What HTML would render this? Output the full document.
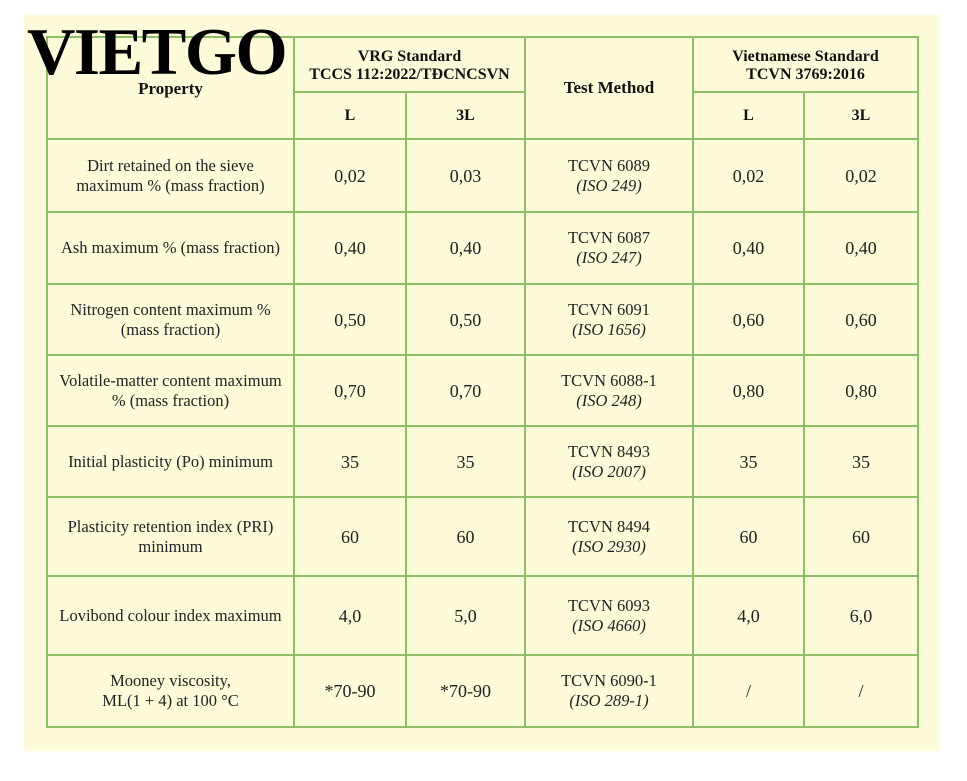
<!DOCTYPE html>
<html><head><meta charset="utf-8">
<style>
html,body{margin:0;padding:0;background:#fff;width:967px;height:781px;overflow:hidden}
#panel{position:absolute;left:24px;top:15px;width:916px;height:736px;background:#fdfbd9}
.c{position:absolute;box-sizing:border-box;border:2px solid #8cbf66;display:flex;align-items:center;justify-content:center;text-align:center;font-family:"Liberation Serif",serif;font-size:16.5px;color:#222;line-height:20px;margin:-1px 0 0 -1px}
.c>span{display:block}
.h{font-weight:bold;font-size:16px;color:#111}
i{font-style:italic}
#logo{position:absolute;left:27px;top:17px;font-family:"Liberation Serif",serif;font-weight:bold;font-size:67px;letter-spacing:-1.5px;color:#000;line-height:70px}
</style></head><body>
<div id="panel"></div>
<div id="tbl"></div>
<div id="logo">VIETGO</div>
<script>
const cols=[47,294,406,525,693,804,918];
const rows=[37,92,139,212,284,355,426,497,576,655,727];
const props=["Dirt retained on the sieve<br>maximum % (mass fraction)","Ash maximum % (mass fraction)","Nitrogen content maximum %<br>(mass fraction)","Volatile-matter content maximum<br>% (mass fraction)","Initial plasticity (Po) minimum","Plasticity retention index (PRI)<br>minimum","Lovibond colour index maximum","Mooney viscosity,<br>ML(1 + 4) at 100 °C"];
const vrgL=["0,02","0,40","0,50","0,70","35","60","4,0","*70-90"];
const vrg3L=["0,03","0,40","0,50","0,70","35","60","5,0","*70-90"];
const methods=["TCVN 6089<br><i>(ISO 249)</i>","TCVN 6087<br><i>(ISO 247)</i>","TCVN 6091<br><i>(ISO 1656)</i>","TCVN 6088-1<br><i>(ISO 248)</i>","TCVN 8493<br><i>(ISO 2007)</i>","TCVN 8494<br><i>(ISO 2930)</i>","TCVN 6093<br><i>(ISO 4660)</i>","TCVN 6090-1<br><i>(ISO 289-1)</i>"];
const vnL=["0,02","0,40","0,60","0,80","35","60","4,0","/"];
const vn3L=["0,02","0,40","0,60","0,80","35","60","6,0","/"];
const tbl=document.getElementById('tbl');
function cell(c0,c1,r0,r1,html,name,hdr,extra){
  const d=document.createElement('div');
  d.className='c'+(hdr?' h':'');
  d.style.left=cols[c0]+'px';d.style.width=(cols[c1]-cols[c0]+2)+'px';
  d.style.top=rows[r0]+'px';d.style.height=(rows[r1]-rows[r0]+2)+'px';
  if(extra)d.style.cssText+=extra;
  d.innerHTML='<span>'+html+'</span>';
  
  
  tbl.appendChild(d);
}
cell(0,1,0,2,'Property','header-property',1,'align-items:flex-start;padding-top:41px;font-size:17px');
cell(1,3,0,1,'VRG Standard<br>TCCS 112:2022/TĐCNCSVN','header-vrg-standard',1,'line-height:18px;padding-top:2px');
cell(1,2,1,2,'L','header-vrg-l',1);
cell(2,3,1,2,'3L','header-vrg-3l',1);
cell(3,4,0,2,'Test Method','header-test-method',1,'font-size:17px');
cell(4,6,0,1,'Vietnamese Standard<br>TCVN 3769:2016','header-vn-standard',1,'line-height:18px;padding-top:2px');
cell(4,5,1,2,'L','header-vn-l',1);
cell(5,6,1,2,'3L','header-vn-3l',1);
for(let i=0;i<props.length;i++){
  const r=i+2;
  cell(0,1,r,r+1,props[i],'property-'+(i+1),0);
  cell(1,2,r,r+1,vrgL[i],'vrg-l-'+(i+1),0,'font-size:18px');
  cell(2,3,r,r+1,vrg3L[i],'vrg-3l-'+(i+1),0,'font-size:18px');
  cell(3,4,r,r+1,methods[i],'test-method-'+(i+1),0);
  cell(4,5,r,r+1,vnL[i],'vn-l-'+(i+1),0,'font-size:18px');
  cell(5,6,r,r+1,vn3L[i],'vn-3l-'+(i+1),0,'font-size:18px');
}
</script>
</body></html>
